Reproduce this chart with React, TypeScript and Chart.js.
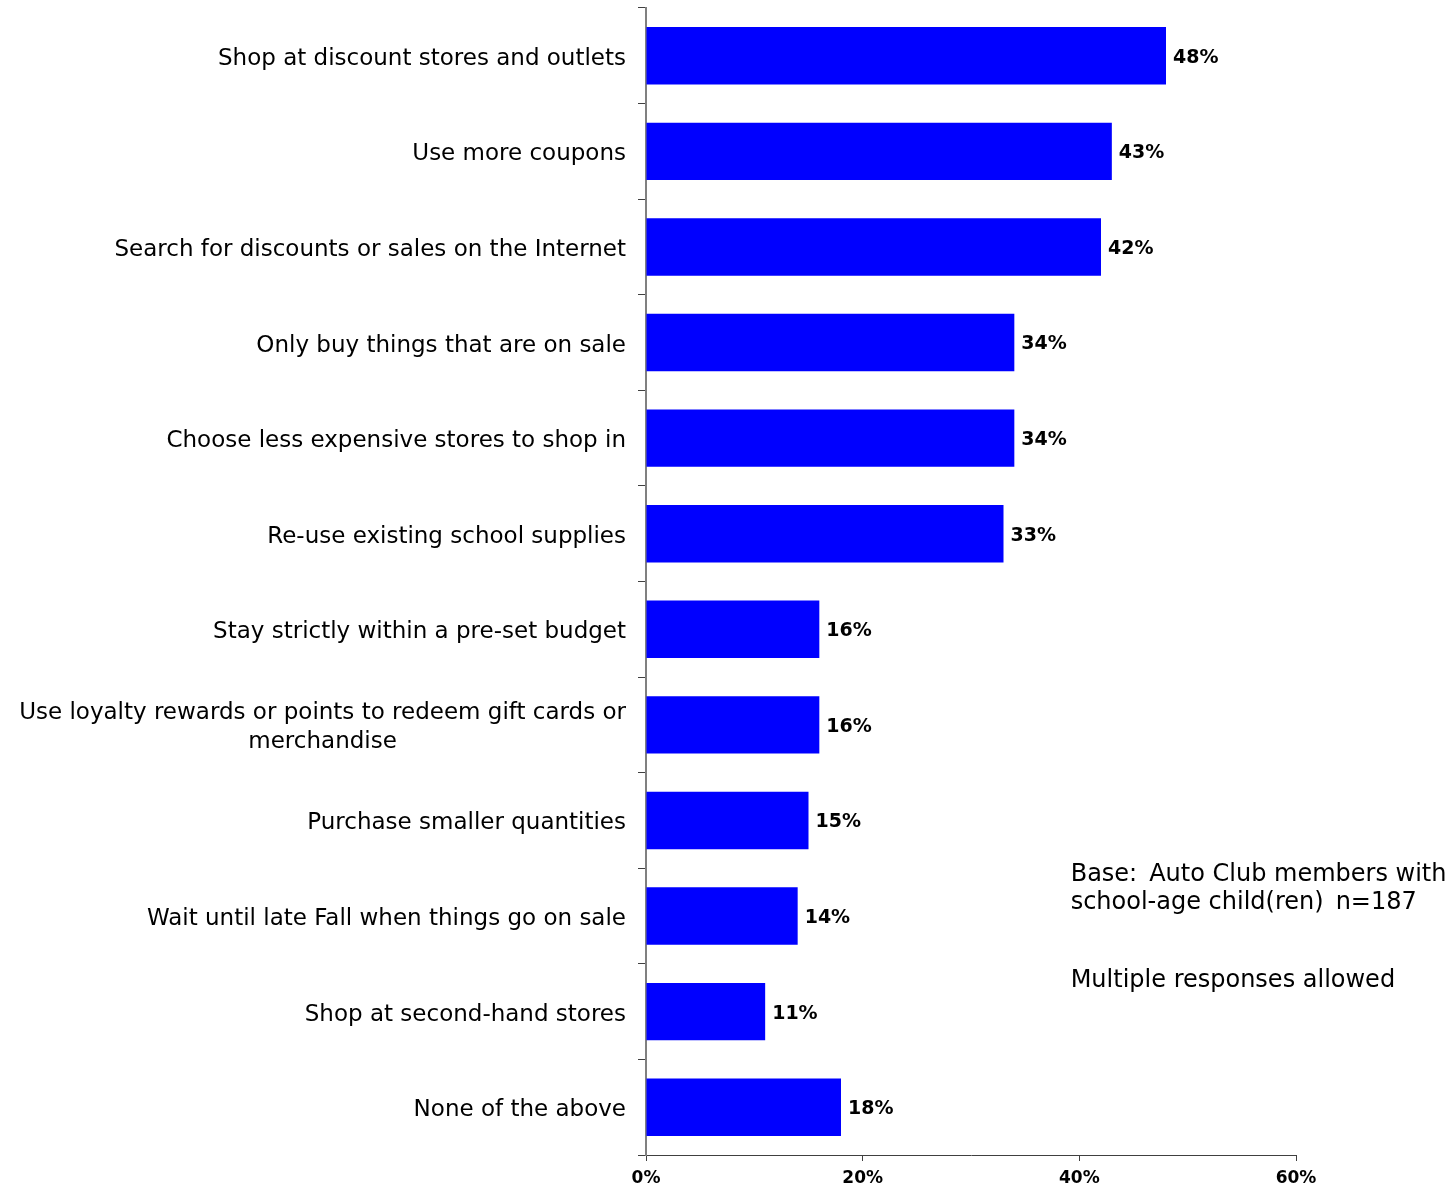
import React, { useEffect, useRef } from "react";
import { Chart, registerables } from "chart.js";

Chart.register(...registerables);

const categories: string[] = [
  "Shop at discount stores and outlets",
  "Use more coupons",
  "Search for discounts or sales on the Internet",
  "Only buy things that are on sale",
  "Choose less expensive stores to shop in",
  "Re-use existing school supplies",
  "Stay strictly within a pre-set budget",
  "Use loyalty rewards or points to redeem gift cards or|merchandise",
  "Purchase smaller quantities",
  "Wait until late Fall when things go on sale",
  "Shop at second-hand stores",
  "None of the above",
];

const values: number[] = [48, 43, 42, 34, 34, 33, 16, 16, 15, 14, 11, 18];

const xTicks: number[] = [0, 20, 40, 60];

const notes: string[] = [
  "Base:  Auto Club members with",
  "school-age child(ren)  n=187",
  "",
  "Multiple responses allowed",
];

const FONT = "'DejaVu Sans', Verdana, sans-serif";

const customDraw = {
  id: "customDraw",
  afterDatasetsDraw(chart: any) {
    const ctx = chart.ctx;
    const meta = chart.getDatasetMeta(0);
    ctx.save();
    // value labels
    ctx.font = `bold 19px ${FONT}`;
    ctx.fillStyle = "#000";
    ctx.textAlign = "left";
    ctx.textBaseline = "middle";
    meta.data.forEach((bar: any, i: number) => {
      ctx.fillText(`${values[i]}%`, bar.x + 7, bar.y + 2);
    });
    // multi-line category labels (centered)
    const yScale = chart.scales.y;
    ctx.font = `23px ${FONT}`;
    ctx.textAlign = "center";
    categories.forEach((c, i) => {
      if (c.indexOf("|") < 0) return;
      const lines = c.split("|");
      const y = yScale.getPixelForValue(i) + 3;
      const lh = 29;
      const maxW = Math.max(...lines.map((l) => ctx.measureText(l).width));
      const right = chart.chartArea.left - 20;
      const cx = right - maxW / 2;
      lines.forEach((l, k) => {
        ctx.fillText(l, cx, y + (k - (lines.length - 1) / 2) * lh);
      });
    });
    // notes
    ctx.textAlign = "left";
    ctx.font = `24px ${FONT}`;
    const nx = chart.scales.x.getPixelForValue(39.2);
    notes.forEach((n, k) => {
      if (n) ctx.fillText(n.replace(/  /g, "\u2002"), nx, 875 + k * 28 + (k >= 3 ? 22 : 0));
    });
    ctx.restore();
  },
};

export default function App() {
  const ref = useRef<HTMLCanvasElement>(null);
  useEffect(() => {
    document.body.style.margin = "0";
    const chart = new Chart(ref.current!, {
      type: "bar",
      data: {
        labels: categories,
        datasets: [
          {
            data: values,
            backgroundColor: "#0000FF",
            borderWidth: 0,
            barPercentage: 0.6,
            categoryPercentage: 1,
          },
        ],
      },
      options: {
        indexAxis: "y",
        animation: false,
        responsive: false,
        maintainAspectRatio: false,
        layout: { padding: { top: 8, right: 156, left: 0, bottom: 0 } },
        plugins: { legend: { display: false }, tooltip: { enabled: false } },
        scales: {
          x: {
            min: 0,
            max: 60,
            afterBuildTicks: (s: any) => {
              s.ticks = xTicks.map((v) => ({ value: v }));
            },
            afterFit: (s: any) => {
              s.height = 34;
              s.paddingLeft = 0;
              s.paddingRight = 0;
            },
            border: { color: "#404040", width: 1 },
            grid: { drawOnChartArea: false, drawTicks: true, tickLength: 6, color: "#404040" },
            ticks: {
              color: "#000",
              font: { family: FONT, size: 17, weight: "bold" },
              padding: 7,
              callback: (v: any) => `${v}%`,
            },
          },
          y: {
            afterFit: (s: any) => {
              s.width = 646;
              s.paddingTop = 0;
              s.paddingBottom = 0;
            },
            border: { color: "#808080", width: 2 },
            grid: {
              offset: true,
              drawOnChartArea: false,
              drawTicks: true,
              tickLength: 8,
              color: "#404040",
            },
            ticks: {
              autoSkip: false,
              color: "#000",
              padding: 12,
              labelOffset: 3,
              font: { family: FONT, size: 23 },
              callback: (_v: any, i: number) =>
                categories[i].indexOf("|") >= 0 ? "" : categories[i],
            },
          },
        },
      },
      plugins: [customDraw],
    });
    return () => chart.destroy();
  }, []);
  return (
    <div style={{ width: 1452, height: 1189 }}>
      <canvas ref={ref} width={1452} height={1189} style={{ display: "block" }} />
    </div>
  );
}
